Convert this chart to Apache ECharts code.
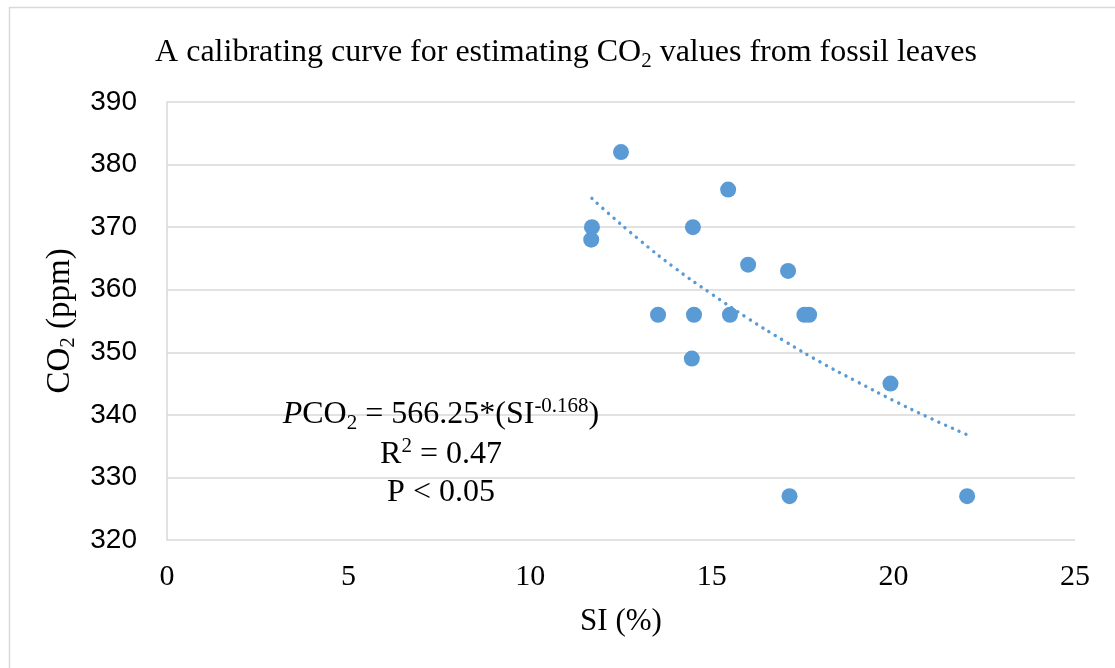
<!DOCTYPE html>
<html>
<head>
<meta charset="utf-8">
<script src="https://cdn.jsdelivr.net/npm/echarts@6/dist/echarts.min.js"></script>
<style>
html,body{margin:0;padding:0;background:#fff;}
#chart{width:1115px;height:668px;}
</style>
</head>
<body>
<div id="chart"></div>
<script>
// Observed data: SI (%) vs CO2 (ppm)
const siValues  = [12.5, 15.45, 11.7, 11.68, 14.48, 16.0, 17.1, 13.52, 14.51, 15.5, 17.55, 17.68, 14.45, 19.92, 17.14, 22.03];
const co2Values = [382, 376, 370, 368, 370, 364, 363, 356, 356, 356, 356, 356, 349, 345, 327, 327];
// Trend curve
const trendX = [11.7, 12, 13, 14, 15, 16, 17, 18, 19, 20, 21, 22];
const trendY = [374.6, 373.0, 368.0, 363.4, 359.3, 355.4, 351.8, 348.4, 345.3, 342.3, 339.5, 336.9];
// Axis ticks
const xTicks = [0, 5, 10, 15, 20, 25];
const yTicks = [320, 330, 340, 350, 360, 370, 380, 390];

const serif = '"Liberation Serif", "DejaVu Serif", serif';
const sans = '"Liberation Sans", Arial, sans-serif';
const blue = '#5B9BD5';

const scatterData = siValues.map((x, i) => [x, co2Values[i]]);
const trendData = trendX.map((x, i) => [x, trendY[i]]);

const chart = echarts.init(document.getElementById('chart'), null, {renderer: 'canvas'});

function makeRich(size) {
  const small = Math.round(size * 0.65);
  return {
    n: {fontFamily: serif, fontSize: size, fontWeight: 'normal', color: '#000', lineHeight: size + 6, verticalAlign: 'middle'},
    i: {fontFamily: serif, fontSize: size, fontWeight: 'normal', fontStyle: 'italic', color: '#000', lineHeight: size + 6, verticalAlign: 'middle'},
    sub: {fontFamily: serif, fontSize: small, fontWeight: 'normal', color: '#000', lineHeight: small + 1, verticalAlign: 'bottom'},
    sup: {fontFamily: serif, fontSize: small, fontWeight: 'normal', color: '#000', lineHeight: small + 1, verticalAlign: 'top'}
  };
}

const option = {
  backgroundColor: '#fff',
  animation: false,
  title: [{
    text: '{n|A calibrating curve for estimating CO}{sub|2}{n| values from fossil leaves}',
    left: 566,
    textAlign: 'center',
    top: 34,
    padding: 0,
    textStyle: {fontWeight: 'normal', rich: makeRich(32)}
  }],
  grid: {left: 167, right: 40, top: 102, bottom: 128},
  xAxis: {
    type: 'value',
    min: 0, max: 25, interval: 5,
    name: 'SI (%)',
    nameLocation: 'middle',
    nameGap: 66,
    nameTextStyle: {fontFamily: serif, fontSize: 31, color: '#000'},
    axisLine: {show: false},
    axisTick: {show: false},
    splitLine: {show: false},
    axisLabel: {
      fontFamily: serif, fontSize: 30, color: '#000', margin: 22,
      formatter: v => xTicks.includes(v) ? String(v) : ''
    }
  },
  yAxis: {
    type: 'value',
    min: 320, max: 390, interval: 10,
    name: '{n|CO}{sub|2}{n| (ppm)}',
    nameLocation: 'middle',
    nameGap: 78,
    nameRotate: 90,
    nameTextStyle: {rich: makeRich(33)},
    axisLine: {show: true, lineStyle: {color: '#D9D9D9', width: 1.5}},
    axisTick: {show: false},
    splitLine: {show: true, lineStyle: {color: '#D9D9D9', width: 1.5}},
    axisLabel: {
      fontFamily: sans, fontSize: 28, color: '#000', margin: 30,
      formatter: v => yTicks.includes(v) ? String(v) : ''
    }
  },
  series: [
    {
      type: 'line',
      data: trendData,
      smooth: true,
      showSymbol: false,
      symbol: 'none',
      z: 3,
      lineStyle: {color: blue, width: 3.4, type: [0.1, 7.3], cap: 'round'}
    },
    {
      type: 'scatter',
      data: scatterData,
      symbol: 'circle',
      symbolSize: 16,
      z: 4,
      itemStyle: {color: blue, opacity: 1}
    }
  ],
  graphic: [
    {
      type: 'rect', silent: true, z: -1,
      shape: {x: 9.5, y: 7.5, width: 1200, height: 800},
      style: {fill: 'none', stroke: '#D9D9D9', lineWidth: 1.5}
    },
    {
      type: 'text', x: 441, y: 415, z: 10,
      style: {
        text: '{i|P}{n|CO}{sub|2}{n| = 566.25*(SI}{sup|-0.168}{n|)}',
        rich: makeRich(32), align: 'center', verticalAlign: 'middle'
      }
    },
    {
      type: 'text', x: 441, y: 455, z: 10,
      style: {
        text: '{n|R}{sup|2}{n| = 0.47}',
        rich: makeRich(32), align: 'center', verticalAlign: 'middle'
      }
    },
    {
      type: 'text', x: 441, y: 493, z: 10,
      style: {
        text: '{n|P < 0.05}',
        rich: makeRich(32), align: 'center', verticalAlign: 'middle'
      }
    }
  ]
};
chart.setOption(option);
</script>
</body>
</html>
